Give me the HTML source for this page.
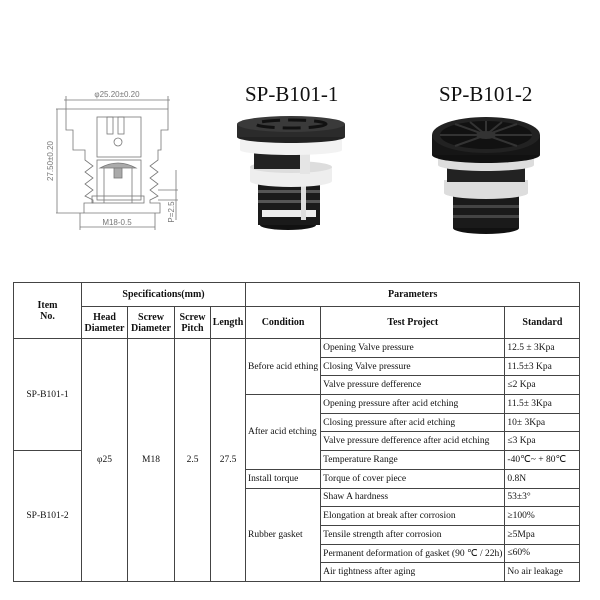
<!DOCTYPE html>
<html><head><meta charset="utf-8"><style>
body{margin:0;width:600px;height:600px;background:#fff;position:relative;overflow:hidden;font-family:"Liberation Serif",serif;}
.t{position:absolute;font-size:21px;color:#111;}
table{position:absolute;left:13px;top:282px;border-collapse:collapse;font-family:"Liberation Serif",serif;font-size:9.5px;color:#111;}
td{border:1px solid #444;padding:0 2px;height:17.7px;white-space:nowrap;}
th{border:1px solid #444;font-size:10px;font-weight:bold;padding:0;}
.c{text-align:center}
</style></head><body>
<svg width="600" height="260" style="position:absolute;left:0;top:0" stroke="#777" fill="none" stroke-width="0.8">
<line x1="64" y1="100" x2="170" y2="100"/><line x1="66" y1="96" x2="66" y2="109"/><line x1="168" y1="96" x2="168" y2="109"/>
<text x="117" y="97" font-size="8" fill="#777" stroke="none" text-anchor="middle" font-family="Liberation Sans">φ25.20±0.20</text>
<line x1="56" y1="109" x2="66" y2="109"/><line x1="56" y1="213" x2="84" y2="213"/><line x1="57" y1="109" x2="57" y2="213"/>
<text transform="translate(53,161) rotate(-90)" font-size="8" fill="#777" stroke="none" text-anchor="middle" font-family="Liberation Sans">27.50±0.20</text>
<polyline points="66,109 168,109 168,130 161,130 161,150 158,150 158,160 150,166 158,172 150,178 158,184 150,190 158,196 150,200 150,203 160,203 160,213 84,213 84,203 93,203 93,200 85,196 93,190 85,184 93,178 85,172 93,166 85,160 85,150 73,150 73,130 66,130 66,109"/>
<rect x="97" y="117" width="44" height="40"/><rect x="107" y="117" width="6" height="17"/><rect x="118" y="117" width="6" height="17"/>
<circle cx="118" cy="142" r="4"/><rect x="97" y="160" width="44" height="40"/>
<path d="M100 168 Q118 158 136 168 L100 168Z" fill="#aaa"/><rect x="114" y="168" width="8" height="10" fill="#aaa"/>
<rect x="92" y="196" width="52" height="7"/><line x1="104" y1="168" x2="104" y2="203"/><line x1="132" y1="168" x2="132" y2="203"/>
<line x1="80" y1="227" x2="155" y2="227"/><line x1="80" y1="213" x2="80" y2="230"/><line x1="155" y1="213" x2="155" y2="230"/>
<text x="117" y="225" font-size="8" fill="#777" stroke="none" text-anchor="middle" font-family="Liberation Sans">M18-0.5</text>
<line x1="158" y1="190" x2="178" y2="190"/><line x1="158" y1="200" x2="178" y2="200"/><line x1="176" y1="170" x2="176" y2="220"/>
<text transform="translate(174,212) rotate(-90)" font-size="8" fill="#777" stroke="none" text-anchor="middle" font-family="Liberation Sans">P=2.5</text>
<g stroke="none">
<ellipse cx="288" cy="225" rx="28" ry="5" fill="#111"/>
<rect x="258" y="183" width="62" height="42" fill="#1a1a1a"/>
<rect x="262" y="210" width="54" height="7" fill="#eee"/>
<rect x="258" y="190" width="62" height="3" fill="#555"/><rect x="258" y="200" width="62" height="3" fill="#555"/>
<rect x="301" y="183" width="5" height="37" fill="#ddd"/>
<ellipse cx="291" cy="181" rx="41" ry="6" fill="#eee"/><rect x="250" y="167" width="82" height="14" fill="#eee"/><ellipse cx="291" cy="167" rx="41" ry="6" fill="#ddd"/>
<rect x="254" y="152" width="46" height="17" fill="#222"/><rect x="300" y="152" width="10" height="22" fill="#e5e5e5"/>
<ellipse cx="291" cy="150" rx="51" ry="5" fill="#f2f2f2"/><rect x="240" y="139" width="102" height="11" fill="#f2f2f2"/>
<ellipse cx="291" cy="137" rx="54" ry="6" fill="#222"/><rect x="237" y="124" width="108" height="13" fill="#2b2b2b"/>
<ellipse cx="291" cy="124" rx="54" ry="8" fill="#3a3a3a"/>
<ellipse cx="291" cy="124" rx="35" ry="4" fill="none" stroke="#111" stroke-width="3" stroke-dasharray="18 8"/>
<ellipse cx="486" cy="228" rx="33" ry="6" fill="#111"/><rect x="453" y="195" width="66" height="33" fill="#1a1a1a"/>
<rect x="453" y="205" width="66" height="3" fill="#444"/><rect x="453" y="215" width="66" height="3" fill="#444"/>
<ellipse cx="486" cy="193" rx="42" ry="6" fill="#ddd"/><rect x="444" y="180" width="84" height="13" fill="#ddd"/>
<rect x="447" y="166" width="78" height="16" fill="#222"/>
<ellipse cx="486" cy="165" rx="48" ry="6" fill="#ddd"/><rect x="438" y="157" width="96" height="8" fill="#ddd"/>
<ellipse cx="486" cy="155" rx="54" ry="8" fill="#111"/><rect x="432" y="135" width="108" height="20" fill="#161616"/>
<ellipse cx="486" cy="135" rx="54" ry="18" fill="#222"/>
<ellipse cx="486" cy="135" rx="46" ry="14" fill="#111"/>
<g stroke="#333" stroke-width="2"><line x1="486" y1="135" x2="440" y2="135"/><line x1="486" y1="135" x2="532" y2="135"/><line x1="486" y1="135" x2="486" y2="121"/><line x1="486" y1="135" x2="455" y2="124"/><line x1="486" y1="135" x2="517" y2="124"/><line x1="486" y1="135" x2="455" y2="146"/><line x1="486" y1="135" x2="517" y2="146"/><line x1="486" y1="135" x2="470" y2="122"/><line x1="486" y1="135" x2="502" y2="122"/></g>
<ellipse cx="486" cy="135" rx="10" ry="4" fill="#333"/>
</g>
</svg>
<div class="t" style="left:245px;top:82px">SP-B101-1</div>
<div class="t" style="left:439px;top:82px">SP-B101-2</div>
<table style="border:1.5px solid #333">
<colgroup><col style="width:68px"><col style="width:46px"><col style="width:47px"><col style="width:36px"><col style="width:35px"><col style="width:74px"><col style="width:184px"><col style="width:75px"></colgroup>
<tr style="height:24px"><th rowspan="2">Item<br>No.</th><th colspan="4">Specifications(mm)</th><th colspan="3">Parameters</th></tr>
<tr style="height:32px"><th>Head<br>Diameter</th><th>Screw<br>Diameter</th><th>Screw<br>Pitch</th><th>Length</th><th>Condition</th><th>Test Project</th><th>Standard</th></tr>
<tr><td rowspan="6" class="c">SP-B101-1</td><td rowspan="13" class="c">φ25</td><td rowspan="13" class="c">M18</td><td rowspan="13" class="c">2.5</td><td rowspan="13" class="c">27.5</td><td rowspan="3">Before acid ething</td><td>Opening Valve pressure</td><td>12.5 ± 3Kpa</td></tr>
<tr><td>Closing Valve pressure</td><td>11.5±3 Kpa</td></tr>
<tr><td>Valve pressure defference</td><td>≤2 Kpa</td></tr>
<tr><td rowspan="4">After acid etching</td><td>Opening pressure after acid etching</td><td>11.5± 3Kpa</td></tr>
<tr><td>Closing pressure after acid etching</td><td>10± 3Kpa</td></tr>
<tr><td>Valve pressure defference after acid etching</td><td>≤3 Kpa</td></tr>
<tr><td rowspan="7" class="c">SP-B101-2</td><td>Temperature Range</td><td>-40℃~ + 80℃</td></tr>
<tr><td>Install torque</td><td>Torque of cover piece</td><td>0.8N</td></tr>
<tr><td rowspan="5">Rubber gasket</td><td>Shaw A hardness</td><td>53±3°</td></tr>
<tr><td>Elongation at break after corrosion</td><td>≥100%</td></tr>
<tr><td>Tensile strength after corrosion</td><td>≥5Mpa</td></tr>
<tr><td>Permanent deformation of gasket (90 ℃ / 22h)</td><td>≤60%</td></tr>
<tr><td>Air tightness after aging</td><td>No air leakage</td></tr>
</table>
</body></html>
